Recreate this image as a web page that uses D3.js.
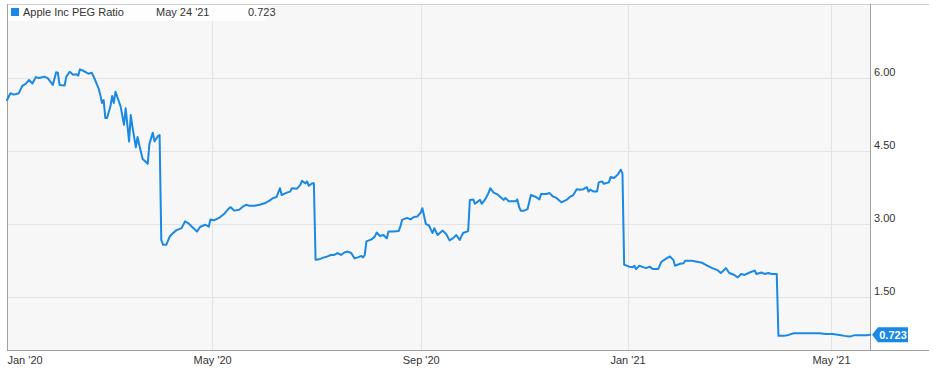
<!DOCTYPE html>
<html>
<head>
<meta charset="utf-8">
<script src="https://cdn.jsdelivr.net/npm/d3@7"></script>
<style>
  html, body { margin: 0; padding: 0; background: #ffffff; }
  svg { display: block; font-family: "Liberation Sans", Arial, sans-serif; }
</style>
</head>
<body>
<svg id="chart" width="936" height="370"></svg>
<script>
// ---- data ----
const seriesName = "Apple Inc PEG Ratio";
const startDate = "2020-01-01";
const endDate = "2021-05-24";
const lastLabelDate = "May 24 '21";
const lastValue = 0.723;
// days since startDate
const dayOffsets = [0,2,4,7,9,11,13,15,17,19,22,24,27,29,30,31,34,35,37,39,41,42,43,45,48,50,52,54,55,56,57,58,59,61,62,63,64,66,67,69,70,72,73,74,76,77,78,80,83,84,86,87,89,90,
  91,92,94,96,98,100,103,105,107,110,112,114,117,119,120,122,125,128,131,132,134,137,139,141,143,146,149,152,155,157,159,161,162,165,167,168,171,173,174,176,177,178,180,181,
  182,184,187,189,191,193,195,197,199,201,203,205,207,209,210,211,212,215,217,218,220,222,224,225,228,231,232,233,236,238,240,242,244,245,247,249,250,251,252,254,257,259,261,263,265,267,269,272,
  273,275,276,279,280,282,284,285,287,289,291,293,294,296,300,301,302,303,305,307,309,312,314,315,318,320,322,324,327,330,332,334,336,338,340,342,343,344,346,348,349,351,352,355,356,358,360,362,363,
  364,367,369,370,371,373,375,377,379,381,384,386,389,391,393,394,397,399,400,404,407,410,413,416,419,421,422,424,426,429,431,433,435,438,441,442,445,447,449,451,454,
  455,458,461,464,468,472,475,479,483,487,491,494,497,500,503,507,509];
const pegValues = [5.54,5.68,5.65,5.68,5.83,5.87,5.95,5.88,6.01,5.99,6.02,5.99,5.85,6.11,6.10,5.85,5.84,6.02,6.12,6.06,6.07,6.04,6.17,6.14,6.08,6.10,5.95,5.78,5.65,5.48,5.54,5.17,5.17,5.41,5.62,5.48,5.71,5.51,5.41,5.03,5.37,4.69,5.23,4.99,4.57,4.78,4.62,4.33,4.23,4.64,4.87,4.69,4.80,4.82,
  2.67,2.57,2.57,2.74,2.81,2.87,2.91,3.05,3.01,2.91,2.84,2.94,2.98,2.94,3.09,3.07,3.12,3.20,3.32,3.34,3.27,3.29,3.35,3.39,3.37,3.37,3.39,3.42,3.48,3.53,3.55,3.73,3.59,3.64,3.66,3.73,3.72,3.80,3.88,3.83,3.87,3.78,3.83,3.83,
  2.26,2.27,2.31,2.33,2.36,2.36,2.40,2.36,2.41,2.43,2.40,2.29,2.31,2.34,2.31,2.36,2.64,2.68,2.74,2.82,2.75,2.77,2.70,2.84,2.84,2.85,2.94,3.08,3.12,3.09,3.14,3.15,3.23,3.32,3.00,2.96,2.88,2.81,2.91,2.77,2.86,2.79,2.66,2.70,2.77,2.67,2.81,2.85,
  3.49,3.50,3.41,3.49,3.41,3.50,3.63,3.73,3.64,3.61,3.55,3.49,3.53,3.46,3.46,3.50,3.35,3.27,3.27,3.30,3.59,3.55,3.50,3.61,3.61,3.63,3.56,3.53,3.44,3.49,3.55,3.59,3.71,3.70,3.71,3.75,3.66,3.70,3.66,3.66,3.85,3.87,3.82,3.85,3.96,3.94,4.00,4.11,4.04,
  2.16,2.12,2.11,2.14,2.07,2.14,2.11,2.09,2.12,2.07,2.07,2.22,2.29,2.33,2.26,2.14,2.18,2.19,2.24,2.24,2.22,2.20,2.14,2.09,2.05,1.99,2.02,2.09,1.99,1.95,1.90,1.97,1.95,2.00,2.04,1.97,2.00,1.97,1.99,1.97,1.97,
  0.70,0.70,0.72,0.755,0.755,0.755,0.755,0.755,0.74,0.74,0.72,0.70,0.685,0.715,0.715,0.715,0.723];
const xTickDates = ["2020-01-01","2020-05-01","2020-09-01","2021-01-01","2021-05-01"];
const xTickLabels = ["Jan '20","May '20","Sep '20","Jan '21","May '21"];
const yTickValues = [1.5, 3.0, 4.5, 6.0];
const yDomain = [0.41, 7.51];

// ---- layout ----
const plot = { left: 7, right: 870, top: 4, bottom: 350, outerRight: 929 };
const lineColor = "#1a88e5";

const parse = d3.utcParse("%Y-%m-%d");
const t0 = parse(startDate);
const data = dayOffsets.map((d, i) => ({ date: d3.utcDay.offset(t0, d), value: pegValues[i] }));

const x = d3.scaleUtc().domain([t0, parse(endDate)]).range([plot.left, plot.right]);
const y = d3.scaleLinear().domain(yDomain).range([plot.bottom, plot.top]);

const svg = d3.select("#chart");

// plot background
svg.append("rect")
  .attr("x", plot.left).attr("y", plot.top)
  .attr("width", plot.right - plot.left).attr("height", plot.bottom - plot.top)
  .attr("fill", "#f7f7f7");

// horizontal grid
svg.append("g").selectAll("line").data(yTickValues.concat([7.5])).join("line")
  .attr("x1", plot.left).attr("x2", plot.right)
  .attr("y1", d => Math.round(y(d)) + 0.5).attr("y2", d => Math.round(y(d)) + 0.5)
  .attr("stroke", "#e3e3e3").attr("stroke-width", 1);

// vertical grid
svg.append("g").selectAll("line").data(xTickDates.slice(1)).join("line")
  .attr("x1", d => Math.round(x(parse(d))) + 0.5).attr("x2", d => Math.round(x(parse(d))) + 0.5)
  .attr("y1", plot.top).attr("y2", plot.bottom)
  .attr("stroke", "#e3e3e3").attr("stroke-width", 1);

// legend background
svg.append("rect")
  .attr("x", plot.left + 1).attr("y", plot.top + 1)
  .attr("width", 258).attr("height", 16)
  .attr("fill", "#ffffff").attr("opacity", 0.85);

// frame lines
svg.append("line").attr("x1", plot.left).attr("x2", plot.outerRight)
  .attr("y1", plot.top + 0.5).attr("y2", plot.top + 0.5).attr("stroke", "#cfcfcf");
svg.append("line").attr("x1", plot.left).attr("x2", plot.outerRight)
  .attr("y1", plot.bottom + 0.5).attr("y2", plot.bottom + 0.5).attr("stroke", "#a0a0a0");
svg.append("line").attr("x1", plot.left + 0.5).attr("x2", plot.left + 0.5)
  .attr("y1", plot.top).attr("y2", plot.bottom).attr("stroke", "#a0a0a0");
svg.append("line").attr("x1", plot.right + 0.5).attr("x2", plot.right + 0.5)
  .attr("y1", plot.top).attr("y2", plot.bottom).attr("stroke", "#a0a0a0");

// line
const line = d3.line().x(d => x(d.date)).y(d => y(d.value)).curve(d3.curveLinear);
svg.append("path").datum(data)
  .attr("d", line)
  .attr("fill", "none")
  .attr("stroke", lineColor)
  .attr("stroke-width", 2)
  .attr("stroke-linejoin", "round")
  .attr("stroke-linecap", "round");

// y axis (right)
const yAxis = d3.axisRight(y).tickValues(yTickValues).tickFormat(d3.format(".2f")).tickSize(0);
const yg = svg.append("g").attr("transform", `translate(${plot.right + 4},-6)`).call(yAxis);
yg.select(".domain").remove();
yg.selectAll("text").attr("fill", "#333").attr("font-size", 11).attr("x", 0)
  .attr("font-family", "Liberation Sans, Arial, sans-serif");

// x axis
const xAxis = d3.axisBottom(x).tickValues(xTickDates.map(parse))
  .tickFormat((d, i) => xTickLabels[i]).tickSize(0);
const xg = svg.append("g").attr("transform", `translate(0,${plot.bottom + 3})`).call(xAxis);
xg.select(".domain").remove();
xg.selectAll("text").attr("fill", "#333").attr("font-size", 11)
  .attr("font-family", "Liberation Sans, Arial, sans-serif");
xg.selectAll("text").filter((d, i) => i === 0).attr("text-anchor", "start").attr("x", 0);

// last value badge
const lastPt = data[data.length - 1];
const by = y(lastValue);
const bx = x(lastPt.date) + 2;
svg.append("path")
  .attr("d", `M${bx},${by} L${bx + 6},${by - 7.5} L${bx + 36},${by - 7.5} L${bx + 36},${by + 7.5} L${bx + 6},${by + 7.5} Z`)
  .attr("fill", lineColor);
svg.append("text")
  .attr("x", bx + 21).attr("y", by + 4)
  .attr("text-anchor", "middle")
  .attr("fill", "#ffffff").attr("font-size", 11).attr("font-weight", "bold")
  .text(d3.format(".3f")(lastValue));

// legend
svg.append("rect").attr("x", 11).attr("y", 8).attr("width", 8).attr("height", 8).attr("fill", lineColor);
svg.append("text").attr("x", 23).attr("y", 16).attr("font-size", 11).attr("fill", "#333").text(seriesName);
svg.append("text").attr("x", 156).attr("y", 16).attr("font-size", 11).attr("fill", "#333").text(lastLabelDate);
svg.append("text").attr("x", 248).attr("y", 16).attr("font-size", 11).attr("fill", "#333").text(d3.format(".3f")(lastValue));
</script>
</body>
</html>
